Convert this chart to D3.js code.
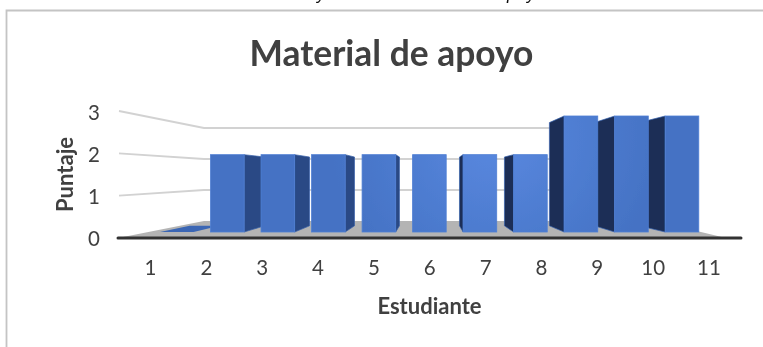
<!DOCTYPE html>
<html><head><meta charset="utf-8">
<script src="https://cdn.jsdelivr.net/npm/d3@7"></script>
<style>html,body{margin:0;padding:0;background:#fff}svg{display:block}</style>
</head><body><svg id="c" width="763" height="347"></svg>
<script>
const estudiantes = ["1","2","3","4","5","6","7","8","9","10","11"];
const puntajes = [0,2,2,2,2,2,2,2,3,3,3];
const nivelesY = [0,1,2,3];
const titulo = "Material de apoyo";
const ejeX = "Estudiante";
const ejeY = "Puntaje";

const W=763,H=347;
const svg=d3.select("#c");
const defs=svg.append("defs");
defs.append("filter").attr("id","soft").attr("filterUnits","userSpaceOnUse")
  .attr("x",-10).attr("y",-10).attr("width",W+20).attr("height",H+20)
  .append("feGaussianBlur").attr("stdDeviation",0.6);
const grad=defs.append("radialGradient").attr("id","front").attr("gradientUnits","userSpaceOnUse")
  .attr("cx",495).attr("cy",135).attr("r",165);
grad.append("stop").attr("offset",0).attr("stop-color","#5a89e0");
grad.append("stop").attr("offset",1).attr("stop-color","#4472c4");
const root=svg.append("g").attr("filter","url(#soft)");

// frame + clipped caption above the chart
root.append("path").attr("d",`M773,10.5H6.5V${H+10}`).attr("fill","none").attr("stroke","#c4c4c4").attr("stroke-width",1.8);
const cap=root.append("g").attr("font-family","Liberation Sans").attr("font-style","italic").attr("font-size",18).attr("fill","#111");
cap.append("text").attr("x",317).attr("y",-1.5).text("y");
cap.append("text").attr("x",546).attr("y",-1.5).attr("text-anchor","end").text("de apoyo");

// scales
const xBar=d3.scalePoint().domain(estudiantes).range([176.8,682]);
const yBar=d3.scaleLinear().domain([0,3]).range([232,116]);
const yWallFront=d3.scaleLinear().domain([0,3]).range([238,111]);
const yWallBack=d3.scaleLinear().domain([0,3]).range([221,128]);
const xLabel=d3.scalePoint().domain(estudiantes).range([150,708.5]);
const yLabel=d3.scaleLinear().domain([0,3]).range([238,112.5]);
const barW=33.6, vx=430, vy=176, k=0.11;
const wallL=119, wallB=204, wallR=655;
const back=(x,y)=>[x+(vx-x)*k,y+(vy-y)*k];

// gridlines on walls
const grid=root.append("g").attr("fill","none").attr("stroke","#d2d2d2").attr("stroke-width",1.9);
grid.selectAll("path").data(nivelesY.slice(1)).join("path")
  .attr("d",d=>d3.line()([[wallL,yWallFront(d)],[wallB,yWallBack(d)],[wallR,yWallBack(d)]]));

// floor
root.append("path").attr("fill","#b4b4b4")
  .attr("d",d3.line()([[118,yWallFront(0)],[wallB,yWallBack(0)],[wallR,yWallBack(0)],[726,yWallFront(0)]])+"Z");

// side faces
const sideData=estudiantes.map((c,i)=>({c,v:puntajes[i]}));
root.append("g").selectAll("path").data(sideData).join("path")
  .attr("d",d=>{
    const cx=xBar(d.c),l=cx-barW/2,r=cx+barW/2,t=yBar(d.v),b=yBar(0);
    if(d.v===0){
      return d3.line()([[l,b],[r,b],back(r,b),back(l,b)])+"Z";
    }
    const e=r<vx?r:(l>vx?l:null);
    if(e===null) return null;
    return d3.line()([[e,t],back(e,t),back(e,b),[e,b]])+"Z";
  })
  .attr("fill",d=>d.v===0?"#3a66b4":(xBar(d.c)<vx?"#2a4a85":"#1a2e56"))
  .attr("stroke",d=>d.v===0?"none":(xBar(d.c)<vx?"#3a62aa":"#3560ae"))
  .attr("stroke-width",0.7);

// front faces
root.append("g").selectAll("rect").data(sideData.filter(d=>d.v>0)).join("rect")
  .attr("x",d=>xBar(d.c)-barW/2).attr("width",barW)
  .attr("y",d=>yBar(d.v)).attr("height",d=>yBar(0)-yBar(d.v))
  .attr("fill","url(#front)").attr("stroke","#4f7fd4").attr("stroke-width",0.8);

// floor front edge / axis line
root.append("line").attr("x1",118).attr("x2",741).attr("y1",238).attr("y2",238)
  .attr("stroke","#333").attr("stroke-width",3).attr("stroke-linecap","round");

// axes
const font="Lato";
const gx=root.append("g").attr("transform","translate(0,275)").call(d3.axisBottom(xLabel).tickSize(0).tickPadding(0));
gx.select(".domain").remove();
gx.selectAll("text").attr("y",0).attr("dy",0).attr("font-family",font).attr("font-size",20.5).attr("fill","#404040");
const gy=root.append("g").attr("transform","translate(100,0)").call(d3.axisLeft(yLabel).tickValues(nivelesY).tickFormat(d3.format("d")).tickSize(0).tickPadding(0));
gy.select(".domain").remove();
gy.selectAll("text").attr("x",0).attr("dy","0.36em").attr("font-family",font).attr("font-size",20.5).attr("fill","#404040");

// titles
root.append("text").attr("x",391.5).attr("y",66).attr("text-anchor","middle")
  .attr("font-family",font).attr("font-weight",700).attr("font-size",35.4).attr("fill","#404040").text(titulo);
root.append("text").attr("x",429.5).attr("y",313.5).attr("text-anchor","middle")
  .attr("font-family",font).attr("font-weight",700).attr("font-size",22).attr("fill","#404040").text(ejeX);
root.append("text").attr("transform","translate(72.5,174.5) rotate(-90)").attr("text-anchor","middle")
  .attr("font-family",font).attr("font-weight",700).attr("font-size",22).attr("fill","#404040").text(ejeY);
</script></body></html>
